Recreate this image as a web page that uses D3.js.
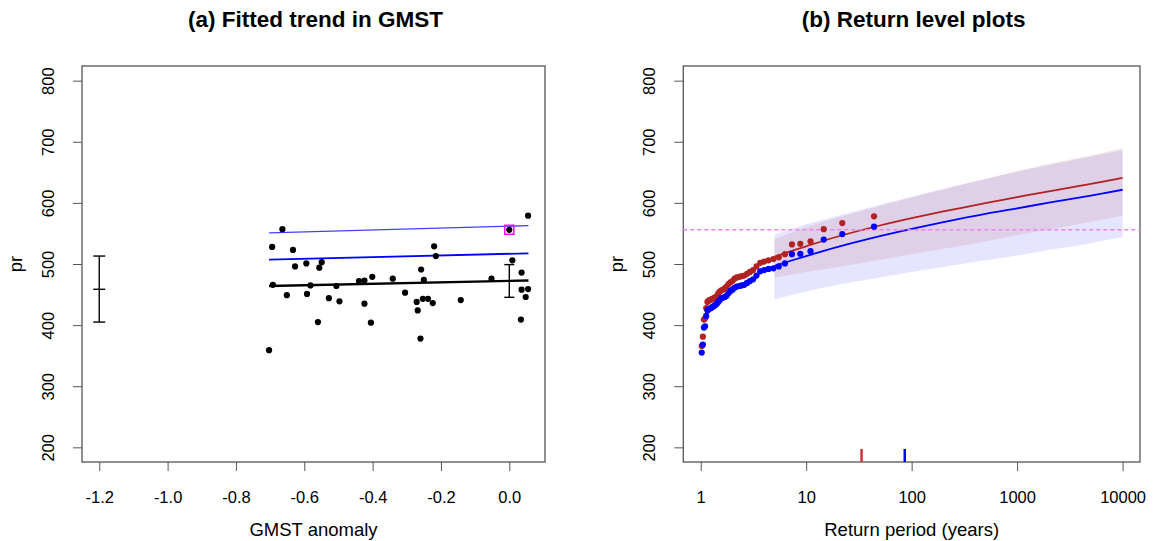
<!DOCTYPE html>
<html>
<head>
<meta charset="utf-8">
<script src="https://cdn.jsdelivr.net/npm/d3@7"></script>
<style>
body { margin: 0; background: #fff; }
text { font-family: "Liberation Sans", Arial, sans-serif; fill: #000; }
</style>
</head>
<body>
<svg width="1161" height="541"></svg>
<script>
// ---- (a) observations vs GMST anomaly
var gmst = [-0.703, -0.694, -0.692, -0.664, -0.651, -0.633, -0.627, -0.594, -0.592, -0.582,
  -0.560, -0.556, -0.549, -0.528, -0.506, -0.497, -0.440, -0.424, -0.424, -0.405, -0.401,
  -0.341, -0.305, -0.271, -0.268, -0.260, -0.258, -0.253, -0.250, -0.238, -0.224, -0.220,
  -0.215, -0.142, -0.052, 0.000, 0.009, 0.036, 0.034, 0.036, 0.048, 0.055, 0.055];
var pr = [359, 528, 466, 557, 449, 523, 496, 501, 451, 465,
  405, 494, 503, 444, 464, 439, 472, 473, 435, 404, 479,
  476, 453, 438, 424, 378, 491, 443, 474, 443, 436, 529,
  513, 441, 476, 556, 506, 486, 409, 458, 446, 459, 579];

// fitted lines (start / end)
var trendX = [-0.703, 0.056];
var trendMu = [464, 473];
var trendMid = [507, 517.5];
var trendTop = [551, 562.7];

// confidence bars at counterfactual and present GMST
var barX = [-1.2, 0];
var barMid = [458.6, 471.7];
var barLo = [405, 445.5];
var barHi = [513, 499];

var eventX = 0, eventY = 556;

// ---- (b) return level plot
var rpEmp = [44, 22, 14.67, 11, 8.8, 7.33, 6.29, 5.5, 4.89, 4.4, 4.0, 3.67, 3.38, 3.14,
  2.93, 2.75, 2.59, 2.44, 2.32, 2.2, 2.095, 2.0, 1.913, 1.833, 1.76, 1.692, 1.63, 1.571,
  1.517, 1.467, 1.419, 1.375, 1.333, 1.294, 1.257, 1.222, 1.189, 1.158, 1.128, 1.1,
  1.073, 1.048, 1.023];
var redObs = [578, 567, 557, 537, 533, 532, 516, 511, 508, 506, 504, 502, 496, 490,
  487, 484, 481, 480, 479, 478, 476, 472, 470, 467, 463, 460, 458, 457,
  455, 452, 447, 446, 444, 443, 442, 441, 440, 438, 428, 411,
  409, 381, 366];
var blueObs = [561, 549, 540, 521, 516.5, 516, 501, 496, 493, 492, 490, 488, 481, 475,
  472, 469, 466, 465, 464, 463, 461, 458, 456, 452, 448, 446, 445, 444,
  441, 438, 435, 433, 431, 430, 428, 427, 426, 424, 415, 398,
  396, 368, 355];

var rpCurve = [5, 10, 20, 50, 100, 200, 500, 1000, 2000, 5000, 10000];
var redRL = [512, 529, 545, 563, 575, 586, 599.5, 609.5, 619, 631, 641];
var blueRL = [497, 513, 528, 545.5, 557.5, 568.5, 582, 591, 600.5, 612, 621.5];
var redLo = [478, 487, 495, 507, 516, 525, 537, 547, 556, 569, 579];
var redHi = [540, 560, 576, 595, 609, 622, 639, 652, 664, 678, 690];
var blueLo = [442, 455, 466, 478, 487, 495, 506, 514, 523, 534, 544];
var blueHi = [548, 565, 579, 597, 610, 623, 639, 651, 662, 676, 686];

var eventLevel = 556;
var redRP = 33.5, blueRP = 86;

var yTicks = [200, 300, 400, 500, 600, 700, 800];
var xTicksA = [-1.2, -1.0, -0.8, -0.6, -0.4, -0.2, 0.0];
var xTicksB = [1, 10, 100, 1000, 10000];

var svg = d3.select("svg");
var plotTop = 66, plotBottom = 462;

var y = d3.scaleLinear().domain([176, 824]).range([plotBottom, plotTop]);
var xa = d3.scaleLinear().domain([-1.2505, 0.1045]).range([82, 545]);
var xb = d3.scaleLog().domain([Math.pow(10, -0.165), Math.pow(10, 4.165)]).range([683.3, 1140]);

function frame(x, title, xlab) {
  var x0 = x.range()[0], x1 = x.range()[1];
  svg.append("rect")
    .attr("x", x0).attr("y", plotTop)
    .attr("width", x1 - x0).attr("height", plotBottom - plotTop)
    .attr("fill", "none").attr("stroke", "#555").attr("stroke-width", 1.3);

  svg.append("text")
    .attr("x", (x0 + x1) / 2 + 2).attr("y", 27)
    .attr("text-anchor", "middle")
    .style("font-size", "22.5px").style("font-weight", "bold")
    .text(title);

  svg.append("text")
    .attr("x", (x0 + x1) / 2).attr("y", 536)
    .attr("text-anchor", "middle")
    .style("font-size", "18.5px")
    .text(xlab);

  svg.append("text")
    .attr("transform", "translate(" + (x0 - 60) + "," + y(500) + ") rotate(-90)")
    .attr("text-anchor", "middle")
    .style("font-size", "18.5px")
    .text("pr");

  var ya = svg.append("g")
    .attr("transform", "translate(" + x0 + ",0)")
    .call(d3.axisLeft(y).tickValues(yTicks).tickSize(9).tickFormat(d3.format("d")));
  ya.select(".domain").remove();
  ya.selectAll("line").attr("stroke", "#555");
  ya.selectAll("text")
    .attr("transform", "rotate(-90)")
    .attr("x", 0).attr("y", -28).attr("dy", 0)
    .attr("text-anchor", "middle")
    .style("font-size", "16.5px").attr("fill", "#000");
}

function xAxis(x, ticks, fmt) {
  var g = svg.append("g")
    .attr("transform", "translate(0," + plotBottom + ")")
    .call(d3.axisBottom(x).tickValues(ticks).tickSize(9).tickFormat(fmt));
  g.select(".domain").remove();
  g.selectAll("line").attr("stroke", "#555");
  g.selectAll("text")
    .attr("y", 41).attr("dy", 0)
    .style("font-size", "16.5px").attr("fill", "#000");
}

// ---------- panel (a)
frame(xa, "(a) Fitted trend in GMST", "GMST anomaly");
xAxis(xa, xTicksA, function(d) { return d.toFixed(1); });

var lineA = d3.line().x(function(d) { return xa(d[0]); }).y(function(d) { return y(d[1]); });
svg.append("path").datum(d3.zip(trendX, trendTop)).attr("d", lineA)
  .attr("stroke", "rgba(0,0,255,0.75)").attr("stroke-width", 1.3).attr("fill", "none");
svg.append("path").datum(d3.zip(trendX, trendMid)).attr("d", lineA)
  .attr("stroke", "#0000ff").attr("stroke-width", 1.8).attr("fill", "none");
svg.append("path").datum(d3.zip(trendX, trendMu)).attr("d", lineA)
  .attr("stroke", "#000").attr("stroke-width", 2.3).attr("fill", "none");

svg.append("g").selectAll("circle")
  .data(d3.zip(gmst, pr))
  .enter().append("circle")
  .attr("cx", function(d) { return xa(d[0]); })
  .attr("cy", function(d) { return y(d[1]); })
  .attr("r", 3.1)
  .attr("fill", "#000");

svg.append("rect")
  .attr("x", xa(eventX) - 4.5).attr("y", y(eventY) - 4.5)
  .attr("width", 9).attr("height", 9)
  .attr("fill", "none").attr("stroke", "#ff00ff").attr("stroke-width", 1.5);

// error bars
var bars = svg.append("g").attr("stroke", "#000").attr("stroke-width", 1.4);
barX.forEach(function(bx, i) {
  var cx = xa(bx), w = i == 0 ? 6 : 5;
  bars.append("line").attr("x1", cx).attr("x2", cx).attr("y1", y(barLo[i])).attr("y2", y(barHi[i]));
  [barLo[i], barMid[i], barHi[i]].forEach(function(v) {
    bars.append("line").attr("x1", cx - w).attr("x2", cx + w).attr("y1", y(v)).attr("y2", y(v));
  });
});

// ---------- panel (b)
frame(xb, "(b) Return level plots", "Return period (years)");
xAxis(xb, xTicksB, d3.format("d"));

var area = d3.area()
  .x(function(d) { return xb(d[0]); })
  .y0(function(d) { return y(d[1]); })
  .y1(function(d) { return y(d[2]); })
  .curve(d3.curveCatmullRom);

svg.append("path").datum(d3.zip(rpCurve, blueLo, blueHi)).attr("d", area)
  .attr("fill", "rgba(0,0,255,0.1)");
svg.append("path").datum(d3.zip(rpCurve, redLo, redHi)).attr("d", area)
  .attr("fill", "rgba(178,34,34,0.1)");

var lineB = d3.line()
  .x(function(d) { return xb(d[0]); })
  .y(function(d) { return y(d[1]); })
  .curve(d3.curveCatmullRom);

svg.append("path").datum(d3.zip(rpCurve, redRL)).attr("d", lineB)
  .attr("stroke", "#b22222").attr("stroke-width", 1.8).attr("fill", "none");
svg.append("path").datum(d3.zip(rpCurve, blueRL)).attr("d", lineB)
  .attr("stroke", "#0000ff").attr("stroke-width", 1.8).attr("fill", "none");

svg.append("line")
  .attr("x1", xb.range()[0]).attr("x2", xb.range()[1])
  .attr("y1", y(eventLevel)).attr("y2", y(eventLevel))
  .attr("stroke", "#ee82ee").attr("stroke-width", 1.4).attr("stroke-dasharray", "4,3");

svg.append("g").selectAll("circle")
  .data(d3.zip(rpEmp, redObs))
  .enter().append("circle")
  .attr("cx", function(d) { return xb(d[0]); })
  .attr("cy", function(d) { return y(d[1]); })
  .attr("r", 3.1)
  .attr("fill", "#b22222");

svg.append("g").selectAll("circle")
  .data(d3.zip(rpEmp, blueObs))
  .enter().append("circle")
  .attr("cx", function(d) { return xb(d[0]); })
  .attr("cy", function(d) { return y(d[1]); })
  .attr("r", 3.1)
  .attr("fill", "#0000ff");

// return periods of the event in each climate
[[redRP, "#cd3333"], [blueRP, "#0000ff"]].forEach(function(t) {
  svg.append("line")
    .attr("x1", xb(t[0])).attr("x2", xb(t[0]))
    .attr("y1", plotBottom - 13).attr("y2", plotBottom)
    .attr("stroke", t[1]).attr("stroke-width", 2.5);
});
</script>
</body>
</html>
